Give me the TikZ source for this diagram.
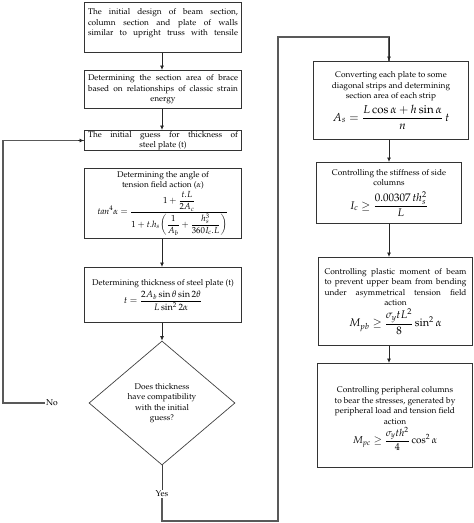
\documentclass[tikz,border=0pt]{standalone}
\usepackage[T1]{fontenc}
\usepackage{mathpazo}
\usepackage{amsmath,amssymb}
\usetikzlibrary{shapes.geometric,arrows.meta}
\newcommand\js[1]{\makebox[\linewidth][s]{#1}}
\newcommand\fmla[2]{{\fontsize{#1}{#1}\selectfont$\displaystyle #2$}}
\begin{document}
\begin{tikzpicture}[x=1pt,y=-1pt,
  font=\fontsize{8.3}{10.5}\selectfont,
  box/.style={draw=black!80, line width=1pt, rectangle, inner sep=0pt, anchor=north west, align=center},
  arr/.style={-{Latex[length=4.5pt,width=4pt]}, line width=0.8pt, draw=black!85},
  con/.style={line width=1.6pt, draw=black!65},
  thinl/.style={line width=0.7pt, draw=black!75},
  lab/.style={inner sep=1pt, font=\fontsize{8.5}{10}\selectfont}
]
\useasboundingbox (0,0) rectangle (474,523);
% ---------- left column ----------
\node[box, minimum width=157pt, minimum height=50pt] (b1) at (84,2)
 {\parbox[c][46pt][t]{150pt}{\centering\vspace{4pt}
 \js{The initial design of beam section,}\\
 \js{column section and plate of walls}\\
 \js{similar to upright truss with tensile}}};
\node[box, minimum width=157pt, minimum height=38pt] (b2) at (84,70)
 {\parbox{150pt}{\centering
 \js{Determining the section area of brace}\\
 \js{based on relationships of classic strain}\\
 energy}};
\node[box, minimum width=157pt, minimum height=20pt] (b3) at (84,130)
 {\parbox{150pt}{\centering
 \js{The initial guess for thickness of}\\
 steel plate (t)}};
\node[box, minimum width=157pt, minimum height=70pt] (b4) at (84,168)
 {\parbox{150pt}{\centering
 Determining the angle of\\
 tension field action ($\alpha$)\\[1pt]
 \fmla{8.8}{\mathit{tan}^{4}\alpha=\frac{1+\dfrac{t.L}{2A_c}}{1+t.h_s\!\left(\dfrac{1}{A_b}+\dfrac{h_s^{3}}{360I_c.L}\right)}}}};
\node[box, minimum width=157pt, minimum height=55pt] (b5) at (84,267)
 {\parbox{150pt}{\centering
 Determining thickness of steel plate (t)\\[2pt]
 \fmla{9.2}{t=\frac{2A_b\sin\theta\sin 2\theta}{L\sin^2 2\alpha}}}};
\node[diamond, draw=black!75, line width=0.7pt, minimum width=146pt, minimum height=124pt, aspect=1.18, inner sep=0pt, align=center] (d) at (162,403)
 {Does thickness\\ have compatibility\\ with the initial\\ guess?};
\node[lab] (no) at (52,403) {No};
\node[lab] (yes) at (162,494) {Yes};
% ---------- right column ----------
\node[box, minimum width=155pt, minimum height=78pt] (ra) at (313,61)
 {\parbox{150pt}{\centering
 Converting each plate to some\\
 diagonal strips and determining\\
 section area of each strip\\[3pt]
 \fmla{11.5}{A_s=\frac{L\cos\alpha+h\sin\alpha}{n}\,t}}};
\node[box, minimum width=145pt, minimum height=61pt] (rb) at (316,162)
 {\parbox{140pt}{\centering
 Controlling the stiffness of side\\
 columns\\[5pt]
 \fmla{11}{I_c\ge\frac{0.00307\,th_s^{2}}{L}}}};
\node[box, minimum width=154pt, minimum height=88pt] (rc) at (318,257)
 {\parbox{142pt}{\centering
 \js{Controlling plastic moment of beam}\\
 \js{to prevent upper beam from bending}\\
 \js{under asymmetrical tension field}\\
 action\\[2pt]
 \fmla{11}{M_{pb}\ge\frac{\sigma_y tL^2}{8}\sin^2\alpha}}};
\node[box, minimum width=155pt, minimum height=104pt] (rd) at (317,363)
 {\parbox{148pt}{\centering\vspace{6pt}
 Controlling peripheral columns\\
 to bear the stresses, generated by\\
 peripheral load and tension field\\
 action\\[2pt]
 \fmla{10}{M_{pc}\ge\frac{\sigma_y th^2}{4}\cos^2\alpha}}};
% ---------- coordinates ----------
\coordinate (xl) at (162,0);
\coordinate (xr) at (389,0);
\coordinate (cb) at (278,521);
\coordinate (ct) at (278,37);
\coordinate (nl) at (3,403);
% ---------- connectors ----------
\draw[arr] (b1.south -| xl) -- (b2.north -| xl);
\draw[arr] (b2.south -| xl) -- (b3.north -| xl);
\draw[arr] (b4.south -| xl) -- (b5.north -| xl);
\draw[arr] (b5.south -| xl) -- (d.north);
\draw[thinl] (d.south) -- (yes.north);
\draw[con] (yes.south) |- (cb) -- (ct) -| (ra.north -| xr);
\draw[arr] (ct -| xr) -- (ra.north -| xr);
\draw[con] (no.west) -- (nl) |- (b3.west);
\draw[arr] ([xshift=-6pt]b3.west) -- (b3.west);
\draw[arr] (ra.south -| xr) -- (rb.north -| xr);
\draw[arr] (rb.south -| xr) -- (rc.north -| xr);
\draw[arr] (rc.south -| xr) -- (rd.north -| xr);
\end{tikzpicture}
\end{document}
